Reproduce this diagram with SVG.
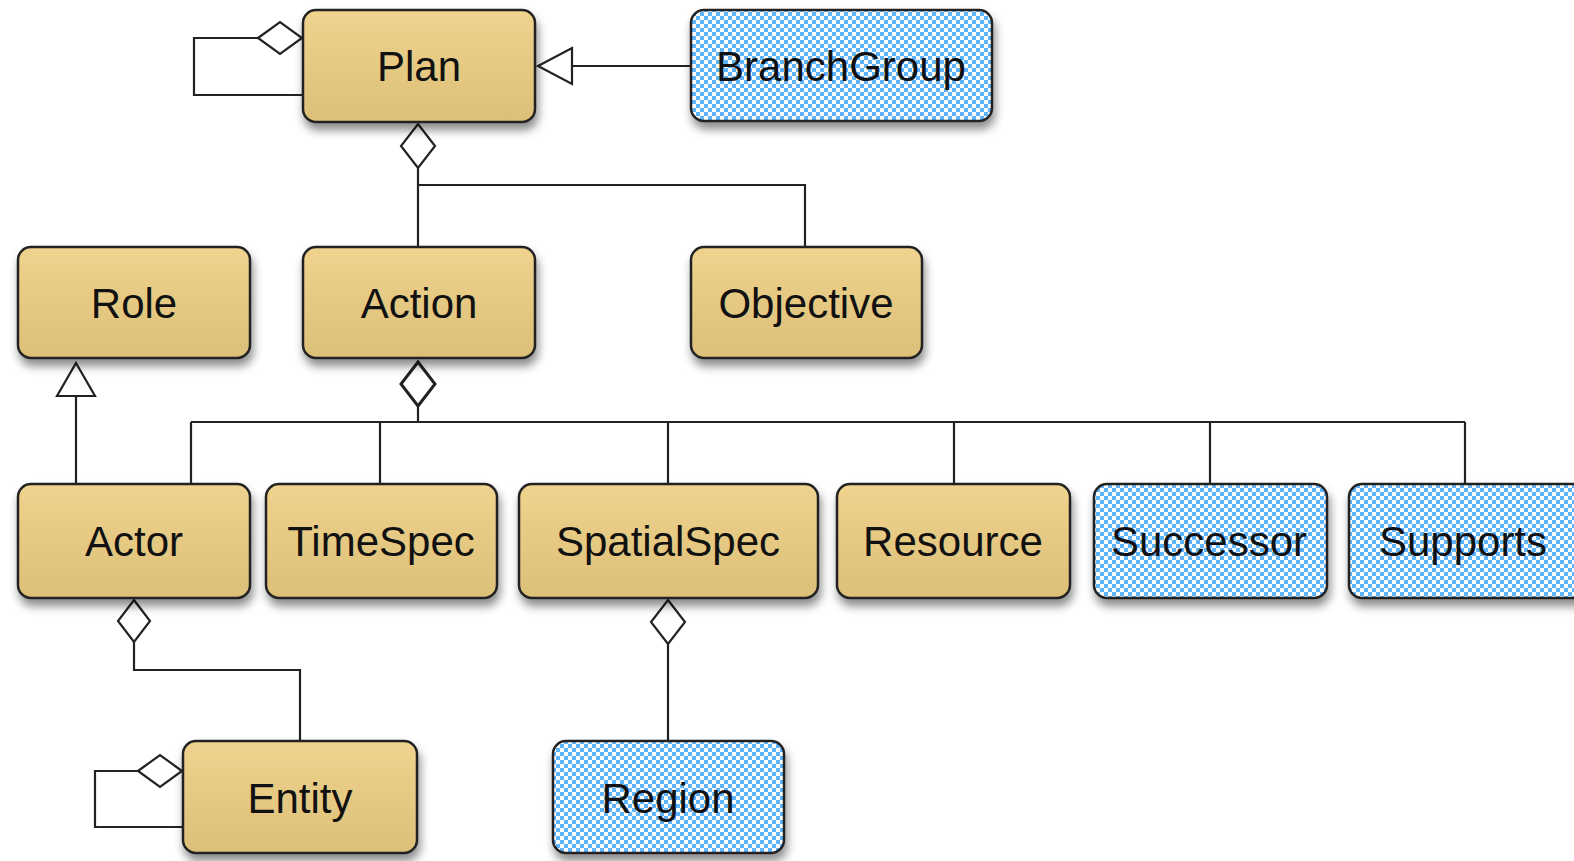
<svg xmlns="http://www.w3.org/2000/svg" width="1574" height="861" viewBox="0 0 1574 861">
<defs>
<linearGradient id="tan" x1="0" y1="0" x2="0" y2="1">
<stop offset="0" stop-color="#efd38e"/>
<stop offset="1" stop-color="#dcbf78"/>
</linearGradient>
<pattern id="check" width="8" height="8" patternUnits="userSpaceOnUse">
<rect width="8" height="8" fill="#ffffff"/>
<rect width="4" height="4" fill="#5db4fd"/>
<rect x="4" y="4" width="4" height="4" fill="#5db4fd"/>
</pattern>
<filter id="sh" x="-10%" y="-10%" width="125%" height="140%">
<feDropShadow dx="2" dy="7" stdDeviation="5" flood-color="#000" flood-opacity="0.45"/>
</filter>
</defs>
<style>
.n{stroke:#222;stroke-width:2.5;filter:url(#sh)}
.t{fill:url(#tan)}
.b{fill:url(#check)}
.l{font-family:"Liberation Sans",Arial,sans-serif;font-size:42px;fill:#111;text-anchor:middle;dominant-baseline:central}
.c{fill:none;stroke:#222;stroke-width:2.2}
.h{fill:#fff;stroke:#222;stroke-width:2.2}
</style>
<g id="connectors">
<path class="c" d="M258,38 H194 V95 H303"/>
<polygon class="h" points="258,38 280,22 302,38 280,54"/>
<path class="c" d="M572,66 H691"/>
<polygon class="h" points="538,66 572,48 572,84"/>
<path class="c" d="M418,168 V247 M418,185 H805 V247"/>
<polygon class="h" points="418,124 435,146 418,168 401,146"/>
<path class="c" d="M418,406 V422 M191,422 H1465 M191,422 V484 M380,422 V484 M668,422 V484 M954,422 V484 M1210,422 V484 M1465,422 V484"/>
<polygon class="h" style="stroke-width:3" points="418,362 435,384 418,406 401,384"/>
<path class="c" d="M76,396 V484"/>
<polygon class="h" points="76,363 95,396 57,396"/>
<path class="c" d="M134,642 V670 H300 V741"/>
<polygon class="h" points="134,600 150,621 134,642 118,621"/>
<path class="c" d="M668,644 V741"/>
<polygon class="h" points="668,600 685,622 668,644 651,622"/>
<path class="c" d="M138,771 H95 V827 H183"/>
<polygon class="h" points="138,771 160,755 182,771 160,787"/>
</g>
<g id="Plan"><rect class="n t" x="303" y="10" width="232" height="112" rx="13"/><text class="l" x="419" y="66">Plan</text></g>
<g id="BranchGroup"><rect class="n b" x="691" y="10" width="301" height="111" rx="13"/><text class="l" x="841" y="66">BranchGroup</text></g>
<g id="Role"><rect class="n t" x="18" y="247" width="232" height="111" rx="13"/><text class="l" x="134" y="303">Role</text></g>
<g id="Action"><rect class="n t" x="303" y="247" width="232" height="111" rx="13"/><text class="l" x="419" y="303">Action</text></g>
<g id="Objective"><rect class="n t" x="691" y="247" width="231" height="111" rx="13"/><text class="l" x="806" y="303">Objective</text></g>
<g id="Actor"><rect class="n t" x="18" y="484" width="232" height="114" rx="13"/><text class="l" x="134" y="541">Actor</text></g>
<g id="TimeSpec"><rect class="n t" x="266" y="484" width="231" height="114" rx="13"/><text class="l" x="381" y="541">TimeSpec</text></g>
<g id="SpatialSpec"><rect class="n t" x="519" y="484" width="299" height="114" rx="13"/><text class="l" x="668" y="541">SpatialSpec</text></g>
<g id="Resource"><rect class="n t" x="837" y="484" width="233" height="114" rx="13"/><text class="l" x="953" y="541">Resource</text></g>
<g id="Successor"><rect class="n b" x="1094" y="484" width="233" height="114" rx="13"/><text class="l" x="1209" y="541">Successor</text></g>
<g id="Supports"><rect class="n b" x="1349" y="484" width="240" height="114" rx="13"/><text class="l" x="1463" y="541">Supports</text></g>
<g id="Entity"><rect class="n t" x="183" y="741" width="234" height="112" rx="13"/><text class="l" x="300" y="798">Entity</text></g>
<g id="Region"><rect class="n b" x="553" y="741" width="231" height="112" rx="13"/><text class="l" x="668" y="798">Region</text></g>
</svg>
